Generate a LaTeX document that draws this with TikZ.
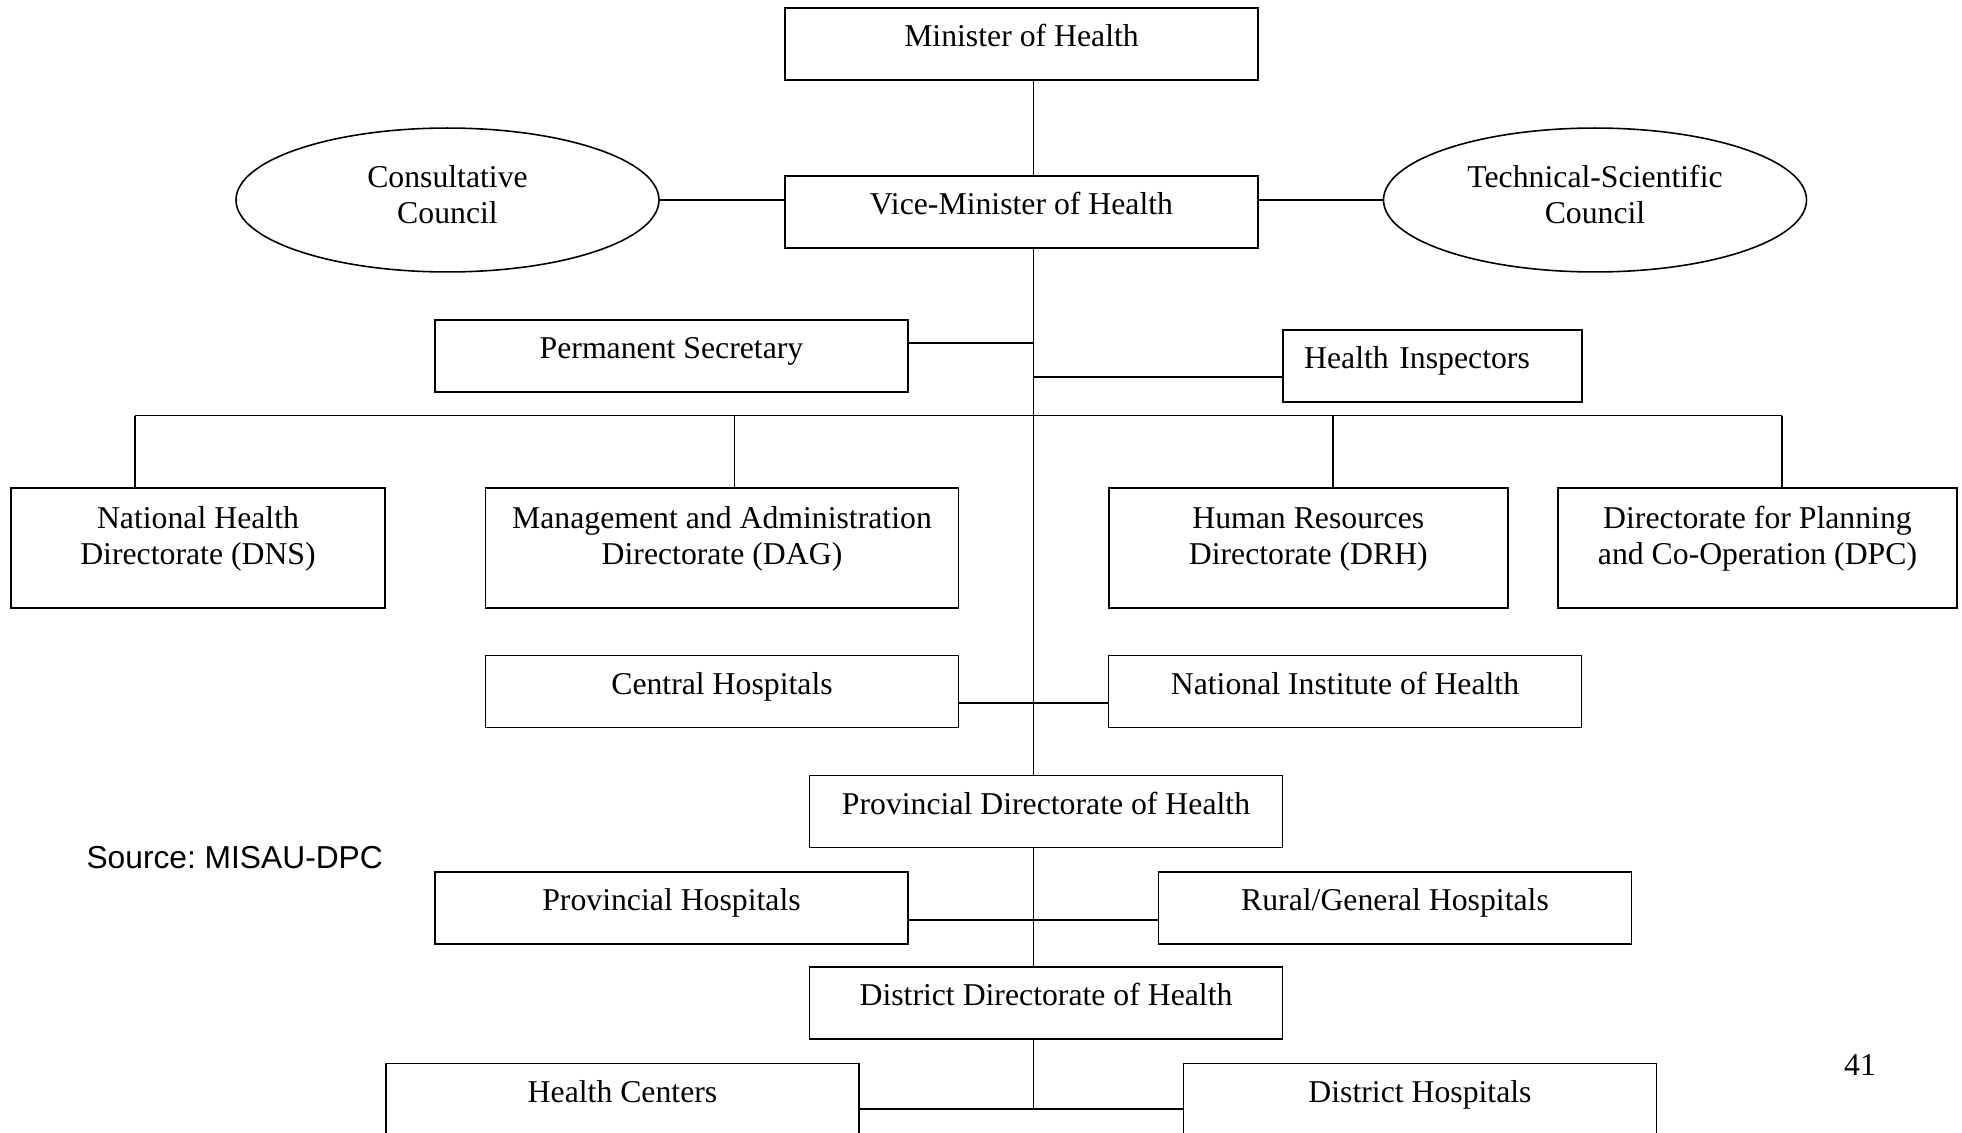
\documentclass[tikz,border=0pt]{standalone}
\usepackage{fontspec}
\setmainfont{Liberation Serif}
\setsansfont{Liberation Sans}
\usetikzlibrary{shapes}
\usetikzlibrary{arrows}

\begin{document}
\begin{tikzpicture}[x=0.378pt,y=-0.378pt,
font=\fontsize{12}{13.8}\selectfont]
\tikzstyle{link}=[line width=0.5pt]
\tikzset{unitbox/.style={draw,line width=0.6pt,inner sep=0pt,align=center,
minimum width=#1,minimum height=27.2pt,text height=10pt,text depth=8pt},
unitbox/.default={178.8pt},
directorate/.style={draw,line width=0.6pt,inner sep=0pt,align=center,
minimum width=#1,minimum height=45.4pt,text height=21.8pt,text depth=9pt},
council/.style={draw,ellipse,line width=0.6pt,inner sep=0pt,align=center,
minimum width=159.9pt,minimum height=54.4pt,text height=21.8pt,text depth=3.8pt}}
\useasboundingbox (0,0) rectangle (1962,1133);
\clip (0,0) rectangle (1962,1133);
\fill[white] (0,0) rectangle (1962,1133);
\coordinate (trunk) at (1033.6,0);
% top of the ministry
\node [unitbox] (min) at (1021.5,44) {Minister of Health};
\node [unitbox] (vm) at (1021.5,212) {Vice-Minister of Health};
\node [council] (cc) at (447.5,200) {Consultative\\Council};
\node [council] (tsc) at (1595,200) {Technical-Scientific\\Council};
\node [unitbox] (ps) at (671.5,356) {Permanent Secretary};
\node [unitbox=113pt,inner xsep=8pt,text width=97pt,align=left] (hi) at (1432.5,366) {Health Inspectors};
% national directorates
\node [directorate=141.4pt] (dns) at (198,548) {National Health\\Directorate (DNS)};
\node [directorate=178.8pt] (dag) at (722,548) {Management and Administration\\Directorate (DAG)};
\node [directorate=150.8pt] (drh) at (1308.3,548) {Human Resources\\Directorate (DRH)};
\node [directorate=150.8pt] (dpc) at (1757.5,548) {Directorate for Planning\\and Co-Operation (DPC)};
\node [unitbox] (ch) at (722,691.5) {Central Hospitals};
\node [unitbox] (nih) at (1345,691.5) {National Institute of Health};
% provinces and districts
\node [unitbox] (pd) at (1046,811.5) {Provincial Directorate of Health};
\node [unitbox] (ph) at (671.5,908) {Provincial Hospitals};
\node [unitbox] (rg) at (1395,908) {Rural/General Hospitals};
\node [unitbox] (dd) at (1046,1003) {District Directorate of Health};
\node [unitbox] (hc) at (622.5,1099.6) {Health Centers};
\node [unitbox] (dh) at (1420,1099.6) {District Hospitals};
\node [anchor=west,inner sep=0pt,font=\sffamily\fontsize{12}{14}\selectfont] (src) at (86,858) {Source:\ MISAU-DPC};
\node (page) at (1860,1065) {41};
% connectors
\draw [link] (min.south -| trunk) -- (vm.north -| trunk);
\draw [link] (vm.south -| trunk) -- (pd.north -| trunk);
\draw [link] (pd.south -| trunk) -- (dd.north -| trunk);
\draw [link] (dd.south -| trunk) -- ([yshift=-17.5pt]hc.north -| trunk);
\draw [link] (cc.east) -- (cc.east -| vm.west);
\draw [link] (tsc.west) -- (tsc.west -| vm.east);
\draw [link] ([yshift=4.9pt]ps.east) -- ([yshift=4.9pt]ps.east -| trunk);
\draw [link] ([yshift=-4.1pt]hi.west) -- ([yshift=-4.1pt]hi.west -| trunk);
\coordinate (busL) at (135,415.5);
\coordinate (busR) at (1782,415.5);
\draw [link] (busL) -- (busR);
\draw [link] (busL) -- (busL |- dns.north);
\draw [link] (734.5,415.5) coordinate (busA) -- (busA |- dag.north);
\draw [link] (1333,415.5) coordinate (busB) -- (busB |- drh.north);
\draw [link] (busR) -- (busR |- dpc.north);
\draw [link] ([yshift=-4.3pt]ch.east) -- ([yshift=-4.3pt]nih.west);
\draw [link] ([yshift=-4.5pt]ph.east) -- ([yshift=-4.5pt]rg.west);
\draw [link] ([yshift=-17.5pt]hc.north east) -- ([yshift=-17.5pt]dh.north west);
\end{tikzpicture}
\end{document}
